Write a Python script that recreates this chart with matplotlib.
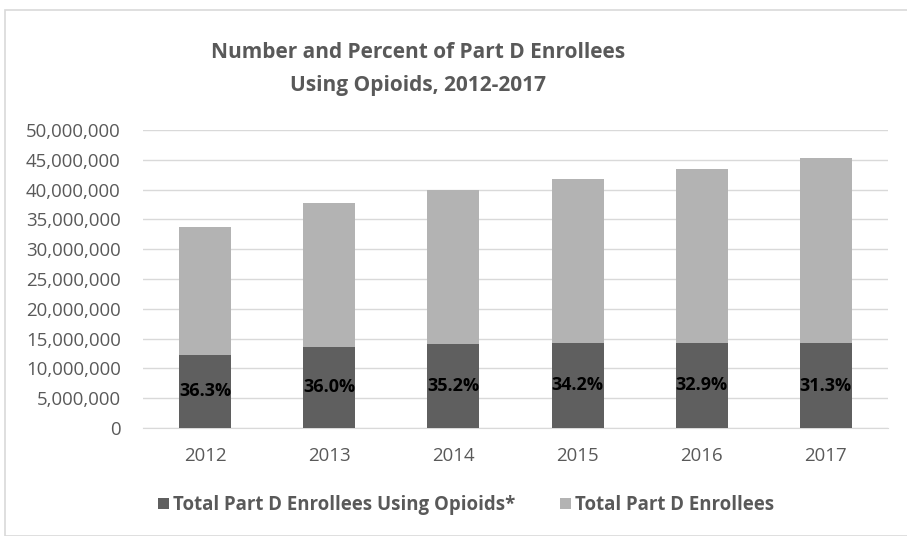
import numpy as np
import matplotlib.pyplot as plt
from matplotlib.patches import Rectangle
from matplotlib.ticker import FuncFormatter

years = ["2012", "2013", "2014", "2015", "2016", "2017"]
total_enrollees = [33.7e6, 37.75e6, 39.9e6, 41.8e6, 43.5e6, 45.3e6]
opioid_enrollees = [12.25e6, 13.6e6, 14.05e6, 14.3e6, 14.3e6, 14.18e6]
pct_labels = ["36.3%", "36.0%", "35.2%", "34.2%", "32.9%", "31.3%"]

dark = "#5f5f5f"
light = "#b3b3b3"
txt = "#595959"

plt.rcParams['font.family'] = ['Open Sans', 'DejaVu Sans']

fig = plt.figure(figsize=(9.07, 5.36), dpi=100)
fig.patches.append(Rectangle((5/907, 0), 1, 1 - 10/536, transform=fig.transFigure,
                             fill=False, edgecolor="#d9d9d9", lw=1.2))
ax = fig.add_axes([143/907, 1 - 428/536, (888-143)/907, (428-130)/536])

x = np.arange(len(years))
ax.bar(x, total_enrollees, width=0.42, color=light, label="Total Part D Enrollees", zorder=2)
ax.bar(x, opioid_enrollees, width=0.42, color=dark,
       label="Total Part D Enrollees Using Opioids*", zorder=3)
for i in range(len(years)):
    ax.text(x[i], opioid_enrollees[i] / 2, pct_labels[i], ha="center", va="center",
            fontsize=13, fontweight="bold", color="black", zorder=4)

ax.set_xlim(-0.5, len(years) - 0.5)
ax.set_ylim(0, 50e6)
ax.set_yticks(np.arange(0, 50e6 + 1, 5e6))
ax.yaxis.set_major_formatter(FuncFormatter(lambda v, p: f"{int(v):,}"))
ax.set_xticks(x)
ax.set_xticklabels(years)
ax.grid(axis="y", color="#d9d9d9", lw=1, zorder=0)
ax.set_axisbelow(True)
for s in ["top", "right", "left"]:
    ax.spines[s].set_visible(False)
ax.spines["bottom"].set_color("#d9d9d9")
ax.tick_params(axis="both", length=0, labelsize=13.4, labelcolor=txt)
ax.tick_params(axis="x", pad=14)
ax.tick_params(axis="y", pad=16)

fig.text(418/907, 1 - 69/536, "Number and Percent of Part D Enrollees\nUsing Opioids, 2012-2017",
         ha="center", va="center", fontsize=15, fontweight="bold", color=txt, linespacing=1.75)

handles, labels = ax.get_legend_handles_labels()
leg = fig.legend(handles[::-1], labels[::-1], loc="center", bbox_to_anchor=(466/907, 1 - 505/536),
                 ncol=2, frameon=False, fontsize=13.4, handlelength=0.6, handleheight=0.6,
                 handletextpad=0.2, columnspacing=2.4)
for t in leg.get_texts():
    t.set_color(txt)
    t.set_fontweight("bold")

fig.savefig("out.png", dpi=100)
